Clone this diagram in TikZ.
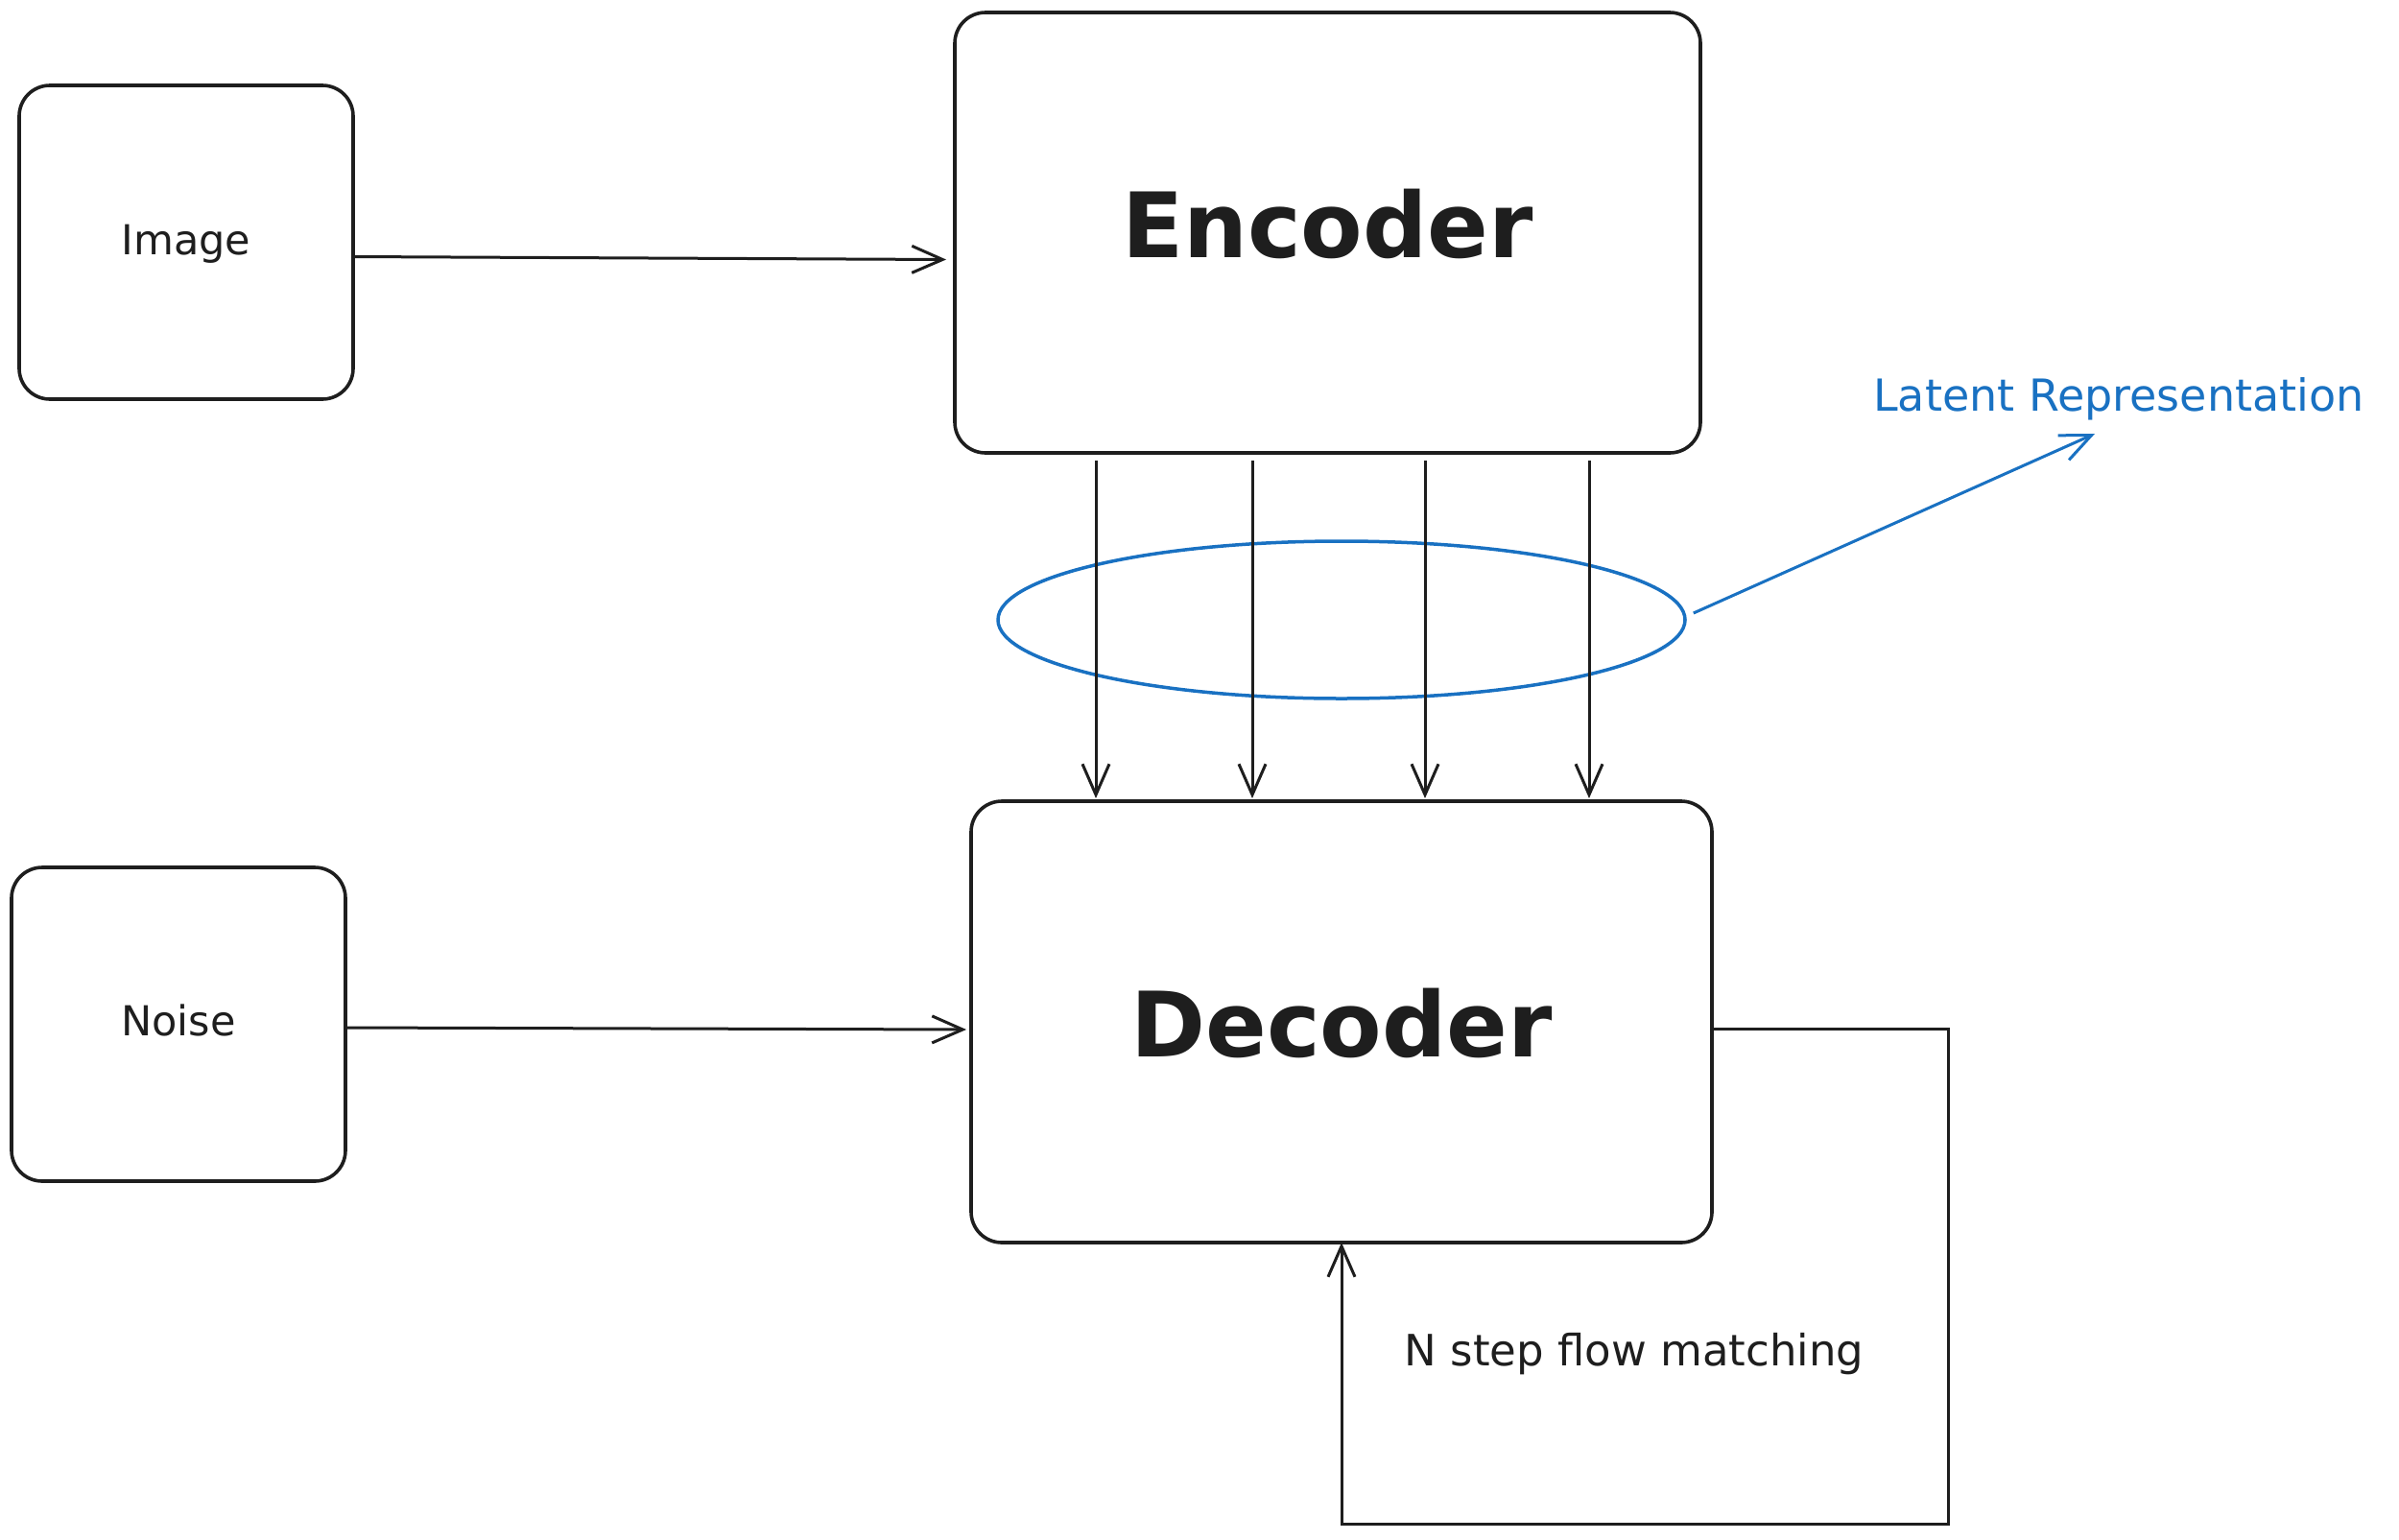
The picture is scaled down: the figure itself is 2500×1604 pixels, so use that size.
\documentclass[tikz,border=0pt]{standalone}
\usepackage{fontspec}
\setmainfont{DejaVu Sans}
\usetikzlibrary{arrows.meta,shapes.geometric,calc}
\definecolor{ink}{HTML}{1E1E1E}
\definecolor{blu}{HTML}{1971C2}
\begin{document}
\begin{tikzpicture}[x=1pt,y=-1pt,
  box/.style={draw=ink, line width=3.6pt, rounded corners=32pt, inner sep=0pt, outer sep=0pt},
  arr/.style={draw=ink, line width=3pt, -{Straight Barb[length=32pt,width=28pt]}},
  barr/.style={draw=blu, line width=3pt, -{Straight Barb[length=32pt,width=28pt]}},
  bigtxt/.style={text=ink, font=\fontsize{94}{110}\selectfont\bfseries, anchor=base, inner sep=0pt},
  smalltxt/.style={text=ink, font=\fontsize{43}{52}\selectfont, anchor=base, inner sep=0pt},
  bluetxt/.style={text=blu, font=\fontsize{46}{56}\selectfont, anchor=base, inner sep=0pt},
]
\useasboundingbox[fill=white] (0,0) rectangle (2500,1604);

% boxes
\node[box, minimum width=348pt, minimum height=327pt] (image) at (194,252.5) {};
\node[box, minimum width=777pt, minimum height=459pt] (enc) at (1383.5,242.5) {};
\node[box, minimum width=348pt, minimum height=327pt] (noise) at (186,1067.5) {};
\node[box, minimum width=772pt, minimum height=460pt] (dec) at (1398,1065) {};
\node[draw=blu, line width=3.5pt, ellipse, minimum width=716pt, minimum height=164pt, inner sep=0pt] (lat) at (1398,646) {};

% texts
\node[smalltxt] (imagetxt) at ([yshift=-13pt]image.center) {Image};
\node[smalltxt] (noisetxt) at ([yshift=-11.5pt]noise.center) {Noise};
\node[bigtxt] (enctxt) at ([yshift=-26pt]enc.center) {Encoder};
\node[bigtxt] (dectxt) at ([yshift=-36pt]dec.center) {Decoder};
\node[bluetxt] (lrep) at (2208,428) {Latent Representation};
\node[smalltxt, font=\fontsize{45}{54}\selectfont] (nstep) at (1703,1423) {N step flow matching};

% horizontal inputs
\draw[arr] ([yshift=-15pt]image.east) -- ([yshift=-28pt,xshift=-9pt]enc.west);
\draw[arr] ([yshift=-3.5pt]noise.east) -- ([yshift=-8pt,xshift=-5pt]dec.west);

% latent arrows
\coordinate (v1) at (1142,0);
\coordinate (v2) at (1305,0);
\coordinate (v3) at (1485,0);
\coordinate (v4) at (1656,0);
\foreach \v in {v1,v2,v3,v4}{
  \draw[arr] ($(enc.south -| \v)+(0,8)$) -- ($(dec.north -| \v)+(0,-3)$);
}

% blue pointer
\coordinate (lt) at (2183,452);
\draw[barr] ($(lat.east)+(7,-7)$) -- (lt);

% loop
\coordinate (lc) at (2030,1588);
\draw[arr] ([yshift=-7pt]dec.east) -| (lc) -| (dec.south);
\end{tikzpicture}
\end{document}
